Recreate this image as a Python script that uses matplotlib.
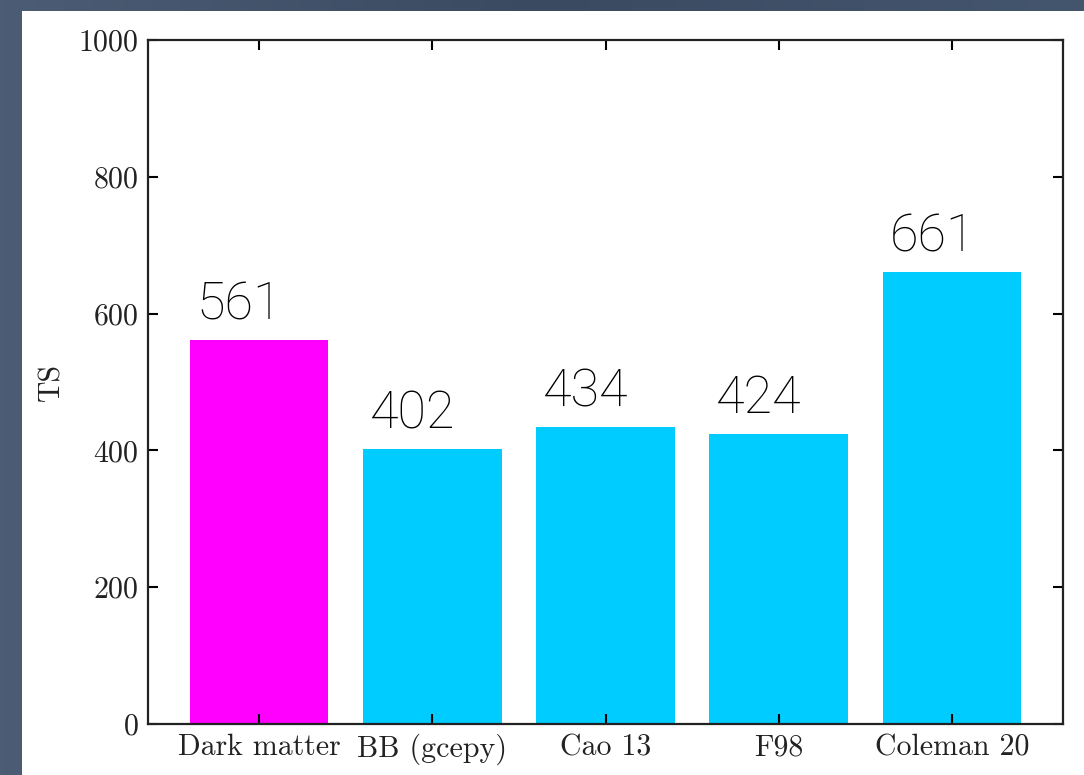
import numpy as np
import matplotlib
matplotlib.use("Agg")
import matplotlib.pyplot as plt
from matplotlib.patches import Rectangle
from matplotlib.colors import LinearSegmentedColormap

plt.rcParams["font.family"] = "serif"
plt.rcParams["font.serif"] = ["cmr10", "DejaVu Serif"]
plt.rcParams["axes.formatter.use_mathtext"] = True
plt.rcParams["mathtext.fontset"] = "cm"

models = ["Dark matter", "BB (gcepy)", "Cao 13", "F98", "Coleman 20"]
ts_values = [561, 402, 434, 424, 661]
bar_colors = ["#ff00ff", "#00ccff", "#00ccff", "#00ccff", "#00ccff"]
y_ticks = [0, 200, 400, 600, 800, 1000]

W, H = 1084, 775
fig = plt.figure(figsize=(W / 100, H / 100), dpi=100)

# dark slate backdrop with a soft gradient
bg = fig.add_axes([0, 0, 1, 1], zorder=-10)
bg.set_axis_off()
gx = np.linspace(0, 1, 256)
grad = np.tile(gx, (16, 1))
cmap = LinearSegmentedColormap.from_list("slate", ["#4b5c74", "#3a4a61", "#44566e"])
bg.imshow(grad, aspect="auto", cmap=cmap, extent=[0, 1, 0, 1])
bg.set_xlim(0, 1)
bg.set_ylim(0, 1)
bg.add_patch(Rectangle((22 / W, 0), 1 - 22 / W, 1 - 11 / H, facecolor="white",
                       edgecolor="none", transform=bg.transAxes))

ax = fig.add_axes([148 / W, 1 - 724 / H, (1063 - 148) / W, (724 - 40) / H])
ax.set_facecolor("white")
x = np.arange(len(models))
bars = ax.bar(x, ts_values, width=0.8, color=bar_colors)

for xi, v in zip(x, ts_values):
    ax.text(xi - 0.36, v + 30, str(v), ha="left", va="baseline",
            fontsize=37.5, family=["Roboto", "DejaVu Sans"], fontweight="light",
            color="black")

ax.set_ylim(0, 1000)
ax.set_yticks(y_ticks)
ax.set_xticks(x)
ax.set_xticklabels(models)
ax.set_ylabel("TS", fontsize=21.5, labelpad=9, color="#222222")
ax.tick_params(direction="in", length=7, width=1.5, labelsize=21.5,
               labelcolor="#222222", top=True, right=True, pad=7)
for sp in ax.spines.values():
    sp.set_linewidth(1.6)
    sp.set_color("#222222")

fig.savefig("out.png", dpi=100)
